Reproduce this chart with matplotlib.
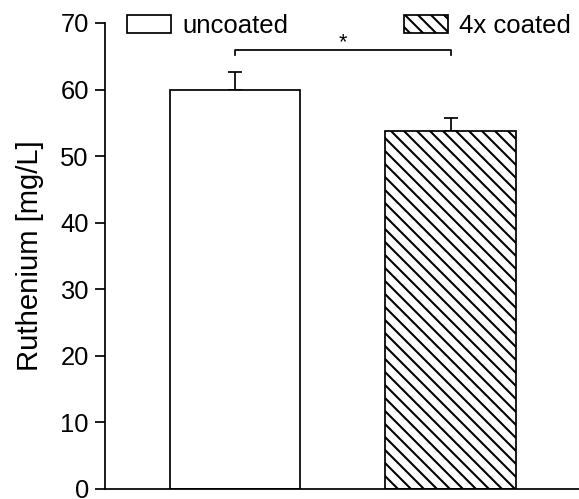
import matplotlib
matplotlib.use("Agg")
import matplotlib.pyplot as plt
from matplotlib.patches import Patch

# values
groups = ["uncoated", "4x coated"]
ruthenium = [60.0, 53.8]
sem = [2.6, 1.95]
hatches = ["", "\\\\"]
sig_label = "*"
bracket_y = 65.9
bracket_drop = 0.75

plt.rcParams["font.family"] = ["Liberation Sans", "DejaVu Sans"]
plt.rcParams["hatch.linewidth"] = 1.9
plt.rcParams["hatch.color"] = "black"

DPI = 78
W, H = 579, 499
fig = plt.figure(figsize=(W / DPI, H / DPI), dpi=DPI)
ax = fig.add_axes([105 / W, 1 - 489 / H, (W - 105) / W, (489 - 23) / H])

x = list(range(len(groups)))
lw = 1.6
for xi, val, err, h, name in zip(x, ruthenium, sem, hatches, groups):
    ax.bar(xi, val, width=0.605, facecolor="white", edgecolor="black",
           linewidth=lw, hatch=h, label=name, zorder=2)
    ax.errorbar(xi, val, yerr=[[0], [err]], fmt="none", ecolor="black",
                elinewidth=lw, capsize=6.8, capthick=lw, zorder=1)

# significance bracket
ax.plot([x[0], x[0], x[1], x[1]],
        [bracket_y - bracket_drop, bracket_y, bracket_y, bracket_y - bracket_drop],
        color="black", lw=lw, clip_on=False)
ax.text((x[0] + x[1]) / 2, bracket_y + 0.3, sig_label, ha="center",
        va="baseline", fontsize=20)

ax.set_xlim(-0.603, 1.596)
ax.set_ylim(0, 70)
ax.set_yticks(range(0, 71, 10))
ax.set_xticks([])
ax.tick_params(axis="y", direction="out", length=9, width=lw, labelsize=23.5, pad=6)
for s in ["top", "right"]:
    ax.spines[s].set_visible(False)
for s in ["left", "bottom"]:
    ax.spines[s].set_linewidth(lw)
ax.set_ylabel("Ruthenium [mg/L]", fontsize=27, labelpad=15)

handles = [Patch(facecolor="white", edgecolor="black", linewidth=lw, hatch=h)
           for h in hatches]
ax.legend(handles, groups, ncol=2, loc="center left",
          bbox_to_anchor=((127 - 105) / (W - 105), 1 - 3 / 466), borderaxespad=0,
          borderpad=0, frameon=False, fontsize=23.8, handlelength=1.7,
          handleheight=0.66, handletextpad=0.43, columnspacing=4.5)

fig.savefig("out.png", dpi=DPI)
